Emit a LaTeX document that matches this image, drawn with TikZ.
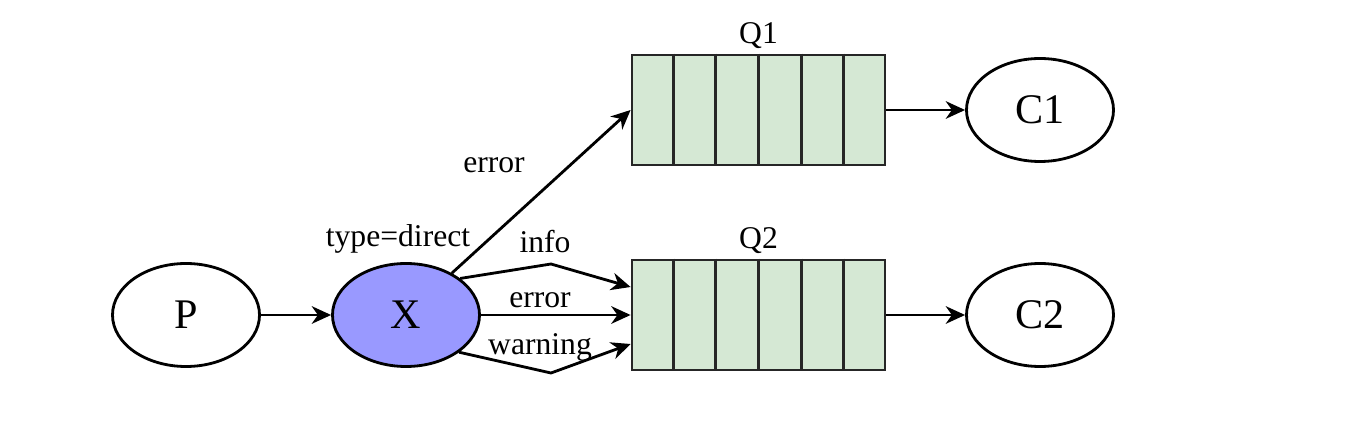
\documentclass[tikz,border=0pt]{standalone}
\usepackage{fontspec}
\setmainfont{Liberation Serif}
\usepackage{tikz}
\usetikzlibrary{shapes.geometric, arrows.meta, positioning, calc}
\definecolor{exchfill}{HTML}{9999FF}
\definecolor{queuefill}{HTML}{D5E8D4}

\begin{document}
\begin{tikzpicture}[
    line width=1.6pt,
    >={Stealth[length=11pt, width=10pt, inset=3.5pt]},
    role/.style={ellipse, draw, minimum width=2.94cm, minimum height=2.06cm, inner sep=0pt, font=\fontsize{24}{28}\selectfont},
    queue/.style={rectangle, draw=black!85, fill=queuefill, minimum width=5.06cm, minimum height=2.2cm, inner sep=0pt},
    key/.style={inner sep=0pt, font=\fontsize{18}{22}\selectfont}
]
\useasboundingbox (0,0) rectangle (27.22,8.86);

\node[role] (p) at (3.72,2.56) {P};
\node[role, fill=exchfill] (x) at (8.12,2.56) {X};
\node[queue] (q1) at (15.17,6.66) {};
\node[queue] (q2) at (15.17,2.56) {};
\node[role] (c1) at (20.8,6.66) {C1};
\node[role] (c2) at (20.8,2.56) {C2};

% queue cells
\foreach \q in {q1,q2}
    \foreach \i in {1,...,5}
        \draw[draw=black!85] ($(\q.north west)!\i/6!(\q.north east)$) -- ($(\q.south west)!\i/6!(\q.south east)$);

\node[key, above=0.08cm of q1] (q1lbl) {Q1};
\node[key, above=0.08cm of q2] (q2lbl) {Q2};
\node[key] (xtype) at (7.96,4.08) {type=direct};

\coordinate (bendinfo) at (11.02,3.58);
\coordinate (bendwarn) at (11.02,1.40);

\draw[->] (p) -- (x);
\draw[->] (x) -- (q1.west);
\draw[->] (x.34) -- (bendinfo) -- ([yshift=0.56cm]q2.west);
\draw[->] (x) -- (q2.west);
\draw[->] (x.-35) -- (bendwarn) -- ([yshift=-0.58cm]q2.west);
\draw[->] (q1) -- (c1);
\draw[->] (q2) -- (c2);

\node[key] (lerr1) at (9.88,5.56) {error};
\node[key] (linfo) at (10.9,4.02) {info};
\node[key] (lerr2) at (10.8,2.86) {error};
\node[key] (lwarn) at (10.8,1.92) {warning};

\end{tikzpicture}
\end{document}
